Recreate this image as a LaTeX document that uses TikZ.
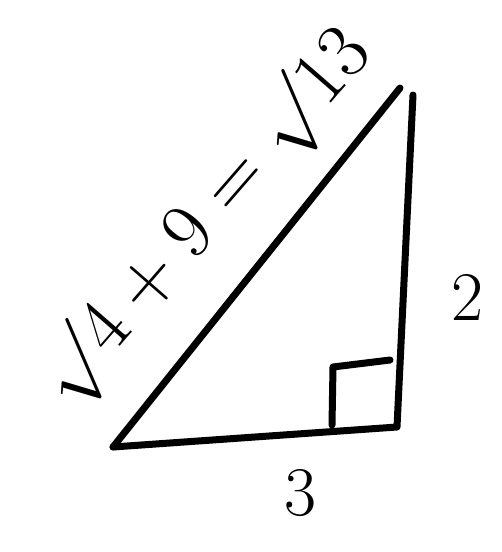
\documentclass[tikz,border=0pt]{standalone}
\usetikzlibrary{calc}

\begin{document}
\begin{tikzpicture}[x=1pt, y=-1pt,
    side/.style={line width=7pt, line join=round, line cap=round},
    label/.style={font=\Huge, scale=2.8, inner sep=0pt}
]
\useasboundingbox (0,0) rectangle (502,552);

% corners of the triangle
\coordinate (left) at (113,447);
\coordinate (right) at (397,427);
\coordinate (top) at (413,95);
\coordinate (hyptop) at (400,88);

% right angle mark
\coordinate (sqa) at (332,425);
\coordinate (sqb) at (333,367);
\coordinate (sqc) at (390,360);

\draw[side] (left) -- (right) -- (top);
\draw[side] (left) -- (hyptop);
\draw[side] (sqa) -- (sqb) -- (sqc);

\node[label] (two) at (467,297) {2};
\node[label] (three) at (300,493) {3};
\node[label, scale=1.13, rotate=49] (hyp) at (206,218) {$\surd 4+9=\surd 13$};
\end{tikzpicture}
\end{document}
